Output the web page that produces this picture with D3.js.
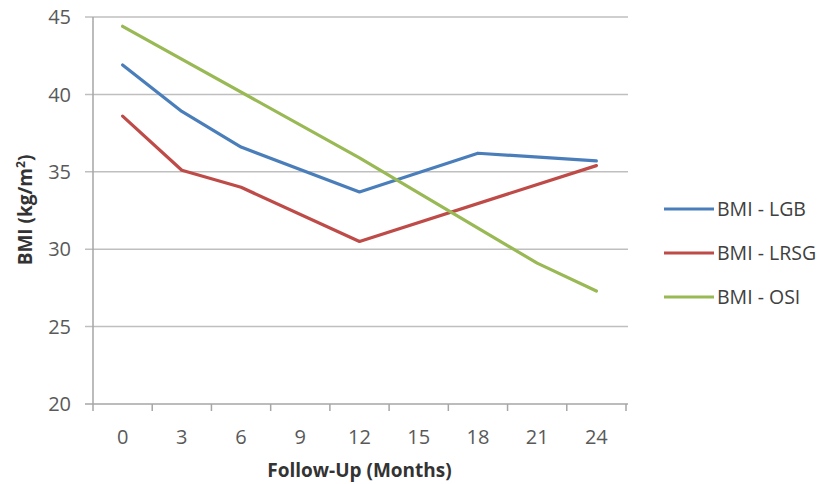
<!DOCTYPE html>
<html><head><meta charset="utf-8">
<script src="https://cdn.jsdelivr.net/npm/d3@7"></script>
<style>body{margin:0;background:#fff}svg{display:block}</style>
</head><body>
<svg id="c" width="829" height="484"></svg>
<script>
const months = ["0","3","6","9","12","15","18","21","24"];
const yTicks = [20,25,30,35,40,45];
const seriesNames = ["BMI - LGB","BMI - LRSG","BMI - OSI"];
const lgb  = [41.9, 38.9, 36.6, null, 33.7, null, 36.2, null, 35.7];
const lrsg = [38.6, 35.1, 34.0, null, 30.5, null, null, null, 35.4];
const osi  = [44.4, null, null, null, 35.9, null, null, 29.1, 27.3];
const colors = ["#4a7ebb","#be4b48","#98b954"];

const svg = d3.select("#c");
const L=93, R=626, T=17, B=404;
const x = d3.scaleBand().domain(months).range([L,R]);
const y = d3.scaleLinear().domain([20,45]).range([B,T]);
const font = "'Open Sans', sans-serif";

// gridlines
svg.append("g").selectAll("line").data(yTicks).join("line")
  .attr("x1",L-8).attr("x2",R+2).attr("y1",d=>y(d)).attr("y2",d=>y(d))
  .attr("stroke",d=>d===20?"#a6a6a6":"#bfbfbf").attr("stroke-width",1.5);
// y axis line
svg.append("line").attr("x1",L).attr("x2",L).attr("y1",T).attr("y2",B)
  .attr("stroke","#a6a6a6").attr("stroke-width",1.5);
// x ticks
const xb = months.map((m,i)=>x(m)).concat([R]);
svg.append("g").selectAll("line").data(xb).join("line")
  .attr("x1",d=>d).attr("x2",d=>d).attr("y1",B).attr("y2",B+7)
  .attr("stroke","#a6a6a6").attr("stroke-width",1.5);

// y tick labels
svg.append("g").selectAll("text").data(yTicks).join("text")
  .attr("x",L-22).attr("y",d=>y(d)).attr("dy","0.36em")
  .attr("text-anchor","end").attr("font-family",font).attr("font-size",20)
  .attr("fill","#595959").text(d=>d);
// x tick labels
svg.append("g").selectAll("text").data(months).join("text")
  .attr("x",d=>x(d)+x.bandwidth()/2).attr("y",B+40)
  .attr("text-anchor","middle").attr("font-family",font).attr("font-size",20)
  .attr("fill","#595959").text(d=>d);

// axis titles
svg.append("text").attr("x",(L+R)/2).attr("y",477).attr("text-anchor","middle")
  .attr("font-family",font).attr("font-size",19).attr("font-weight","bold")
  .attr("fill","#333333").text("Follow-Up (Months)");
const yt = svg.append("text").attr("transform","translate(32,210) rotate(-90)")
  .attr("text-anchor","middle").attr("font-family",font).attr("font-size",19)
  .attr("font-weight","bold").attr("fill","#333333");
yt.append("tspan").text("BMI (kg/m");
yt.append("tspan").attr("font-size",12).attr("dy","-0.6em").text("2");
yt.append("tspan").attr("dy","0.4em").text(")");

// lines
const data = [lgb,lrsg,osi];
const line = d3.line().x(d=>x(d.m)+x.bandwidth()/2).y(d=>y(d.v));
data.forEach((s,i)=>{
  const pts = months.map((m,j)=>({m,v:s[j]})).filter(d=>d.v!=null);
  svg.append("path").attr("d",line(pts)).attr("fill","none")
    .attr("stroke",colors[i]).attr("stroke-width",3.2)
    .attr("stroke-linejoin","round").attr("stroke-linecap","round");
});

// legend
const lg = svg.append("g");
seriesNames.forEach((n,i)=>{
  const yy = 209 + i*44;
  lg.append("line").attr("x1",664).attr("x2",714).attr("y1",yy).attr("y2",yy)
    .attr("stroke",colors[i]).attr("stroke-width",3.2);
  lg.append("text").attr("x",717).attr("y",yy).attr("dy","0.36em")
    .attr("font-family",font).attr("font-size",19.5).attr("fill","#404040").text(n);
});
</script>
</body></html>
